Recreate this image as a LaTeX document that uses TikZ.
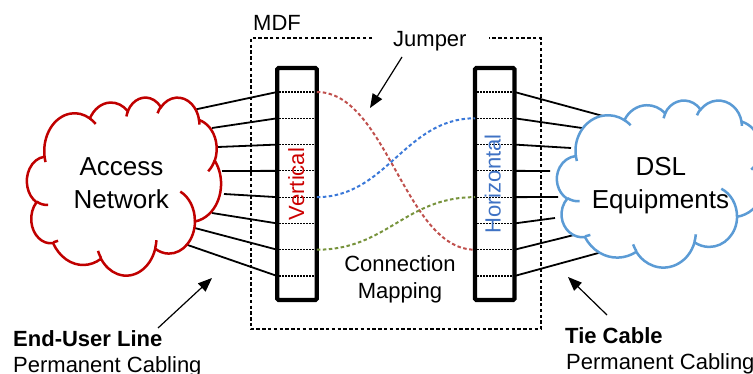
\documentclass[tikz,border=0pt]{standalone}
\usepackage{fontspec}
\setmainfont{Liberation Sans}
\usetikzlibrary{arrows.meta}
\definecolor{cloudred}{HTML}{C00000}
\definecolor{cloudblue}{HTML}{5B9BD5}
\definecolor{curvered}{HTML}{C0504D}
\definecolor{curveblue}{HTML}{3A78D8}
\definecolor{curvegreen}{HTML}{77933C}
\definecolor{vtext}{HTML}{CC0000}
\definecolor{htext}{HTML}{3F72C4}
\newcommand\officecloud[5]{%
\begin{scope}[shift={(#1pt,-#2pt)}, x={(#3pt,0pt)}, y={(0pt,-#4pt)}]
\draw[cloudline,#5,fill=white] (3.9,14.37)
 arc[x radius=6.753,y radius=9.19,start angle={cpa(-190.487,6.753,9.19)},end angle={cpa(-66.707,6.753,9.19)}]
 arc[x radius=5.333,y radius=7.267,start angle={cpa(-144.102,5.333,7.267)},end angle={cpa(-54.157,5.333,7.267)}]
 arc[x radius=4.365,y radius=5.945,start angle={cpa(-145.808,4.365,5.945)},end angle={cpa(-46.085,4.365,5.945)}]
 arc[x radius=4.857,y radius=6.595,start angle={cpa(-130.986,4.857,6.595)},end angle={cpa(-13.744,4.857,6.595)}]
 arc[x radius=5.333,y radius=7.273,start angle={cpa(-78.709,5.333,7.273)},end angle={cpa(30.318,5.333,7.273)}]
 arc[x radius=6.775,y radius=9.22,start angle={cpa(-46.267,6.775,9.22)},end angle={cpa(84.002,6.775,9.22)}]
 arc[x radius=5.785,y radius=7.867,start angle={cpa(0.625,5.785,7.867)},end angle={cpa(114.658,5.785,7.867)}]
 arc[x radius=6.752,y radius=9.215,start angle={cpa(22.452,6.752,9.215)},end angle={cpa(137.625,6.752,9.215)}]
 arc[x radius=7.72,y radius=10.543,start angle={cpa(66.243,7.72,10.543)},end angle={cpa(141.954,7.72,10.543)}]
 arc[x radius=4.36,y radius=5.918,start angle={cpa(-274.942,4.36,5.918)},end angle={cpa(-128.206,4.36,5.918)}]
 arc[x radius=4.345,y radius=5.945,start angle={cpa(-246.829,4.345,5.945)},end angle={cpa(-94.31,4.345,5.945)}]
 -- cycle;
\draw[cloudline,#5]
 (4.693,26.177) arc[x radius=4.345,y radius=5.945,start angle={cpa(86.742,4.345,5.945)},end angle={cpa(113.172,4.345,5.945)}]
 (6.928,34.899) arc[x radius=4.36,y radius=5.918,start angle={cpa(73.610,4.36,5.918)},end angle={cpa(85.057,4.36,5.918)}]
 (16.478,39.09) arc[x radius=6.752,y radius=9.215,start angle={cpa(137.624,6.752,9.215)},end angle={cpa(151.705,6.752,9.215)}]
 (28.827,34.751) arc[x radius=6.752,y radius=9.215,start angle={cpa(6.453,6.752,9.215)},end angle={cpa(22.451,6.752,9.215)}]
 (34.129,22.954) arc[x radius=5.785,y radius=7.867,start angle={cpa(-70.292,5.785,7.867)},end angle={cpa(0.625,5.785,7.867)}]
 (41.798,15.354) arc[x radius=5.333,y radius=7.273,start angle={cpa(30.318,5.333,7.273)},end angle={cpa(58.070,5.333,7.273)}]
 (38.324,5.426) arc[x radius=4.857,y radius=6.595,start angle={cpa(-13.744,4.857,6.595)},end angle={cpa(1.115,4.857,6.595)}]
 (29.078,3.952) arc[x radius=4.857,y radius=6.595,start angle={cpa(-149.181,4.857,6.595)},end angle={cpa(-130.986,4.857,6.595)}]
 (22.141,4.72) arc[x radius=4.365,y radius=5.945,start angle={cpa(-163.494,4.365,5.945)},end angle={cpa(-145.808,4.365,5.945)}]
 (14.0,5.192) arc[x radius=6.753,y radius=9.19,start angle={cpa(-66.707,6.753,9.19)},end angle={cpa(-54.388,6.753,9.19)}]
 (4.127,15.789) arc[x radius=6.753,y radius=9.19,start angle={cpa(157.654,6.753,9.19)},end angle={cpa(169.512,6.753,9.19)}];
\end{scope}}
\begin{document}
\begin{tikzpicture}[x=1pt,y=-1pt,
  declare function={cpa(\a,\w,\h)=\a+mod(atan2(\w*sin(\a),\h*cos(\a))-\a+900,360)-180;},
  cloudline/.style={line width=2.5pt},
  cable/.style={line width=1.8pt,black},
  panel/.style={draw,line width=4.3pt,fill=white,rounded corners=1.5pt,minimum width=39.6pt,minimum height=232pt,inner sep=0pt},
  rowline/.style={line width=1.2pt,dash pattern=on 1.6pt off 1.4pt},
  jumper/.style={line width=2pt,dash pattern=on 3.5pt off 2.5pt},
  mdf/.style={line width=1.7pt,dash pattern=on 3.4pt off 2.4pt},
  ptr/.style={line width=1.2pt,-{Triangle[length=14pt,width=11pt]}},
  lbl/.style={inner sep=0pt,font=\fontsize{22}{26}\selectfont},
  cld/.style={inner sep=0pt,font=\fontsize{26}{30}\selectfont},
  bold/.style={lbl,font=\fontsize{22}{26}\selectfont\bfseries}]
\useasboundingbox (0,0) rectangle (753,374);
% MDF frame
\coordinate (m1) at (372,38.3);
\coordinate (m2) at (250.7,38.3);
\coordinate (m3) at (250.7,329);
\coordinate (m4) at (541,329);
\coordinate (m5) at (541,38.3);
\coordinate (m6) at (489,38.3);
\draw[mdf] (m1) -- (m2) -- (m3) -- (m4) -- (m5) -- (m6);
% row coordinates
\foreach \k in {1,...,8} {
  \pgfmathsetmacro\ry{92+(\k-1)*26.286}
  \coordinate (vl\k) at (277.2,\ry);
  \coordinate (vr\k) at (316.8,\ry);
  \coordinate (hl\k) at (475,\ry);
  \coordinate (hr\k) at (514.5,\ry);
}
% cloud edge points
\foreach \k/\px/\py in {1/193/110,2/212/128,3/218/147,4/222/171,5/224/194,6/212/213,7/191/227,8/179/242}
  \coordinate (ac\k) at (\px,\py);
\foreach \k/\px/\py in {1/603/116,2/582/128,3/571/148,4/550/171,5/558/197,6/555/218,7/574/235,8/602/252}
  \coordinate (dc\k) at (\px,\py);
\foreach \k in {1,...,8} {
  \draw[cable] (ac\k) -- (vl\k);
  \draw[cable] (hr\k) -- (dc\k);
}
% clouds
\officecloud{27}{97}{4.4907}{4.1204}{cloudred}
\officecloud{557}{100}{4.8148}{3.8657}{cloudblue}
\node[cld,anchor=base] (acc) at (121.5,176) {Access};
\node[cld,anchor=base] (net) at (121.3,208.3) {Network};
\node[cld,anchor=base] (dsl) at (660.8,176) {DSL};
\node[cld,anchor=base] (equ) at (660.5,208.3) {Equipments};
% panels
\node[panel] (vp) at (297,184) {};
\node[panel] (hp) at (494.75,184) {};
\foreach \k in {1,...,8} {
  \draw[rowline] ([xshift=2pt]vl\k) -- ([xshift=-2pt]vr\k);
  \draw[rowline] ([xshift=2pt]hl\k) -- ([xshift=-2pt]hr\k);
}
\node[lbl,rotate=90,anchor=base,text=vtext] (vt) at (304,184) {Vertical};
\node[lbl,rotate=90,anchor=base,text=htext] (ht) at (500.5,184) {Horizontal};
% jumpers
\draw[jumper,curvered] (vr1) .. controls +(70,0) and +(-70,0) .. (hl7);
\draw[jumper,curveblue] (vr5) .. controls +(70,0) and +(-70,0) .. (hl2);
\draw[jumper,curvegreen] (vr7) .. controls +(70,0) and +(-70,0) .. (hl5);
% labels
\node[lbl,anchor=base west] (mdf) at (253,31) {MDF};
\node[lbl,anchor=base west] (jmp) at (393,46.5) {Jumper};
\node[lbl,anchor=base] (con) at (400,271.7) {Connection};
\node[lbl,anchor=base] (map) at (400,298.3) {Mapping};
\node[bold,anchor=base west] (eul) at (13,346.7) {End-User Line};
\node[lbl,anchor=base west] (pc1) at (13,373) {Permanent Cabling};
\node[bold,anchor=base west] (tie) at (565,343.3) {Tie Cable};
\node[lbl,anchor=base west] (pc2) at (566,369.6) {Permanent Cabling};
% arrows
\coordinate (ja) at (402,57);
\coordinate (jb) at (370,108);
\coordinate (ea) at (158,328);
\coordinate (eb) at (212,278);
\coordinate (ta) at (607,315);
\coordinate (tb) at (568,277);
\draw[ptr] (ja) -- (jb);
\draw[ptr] (ea) -- (eb);
\draw[ptr] (ta) -- (tb);
\end{tikzpicture}
\end{document}
